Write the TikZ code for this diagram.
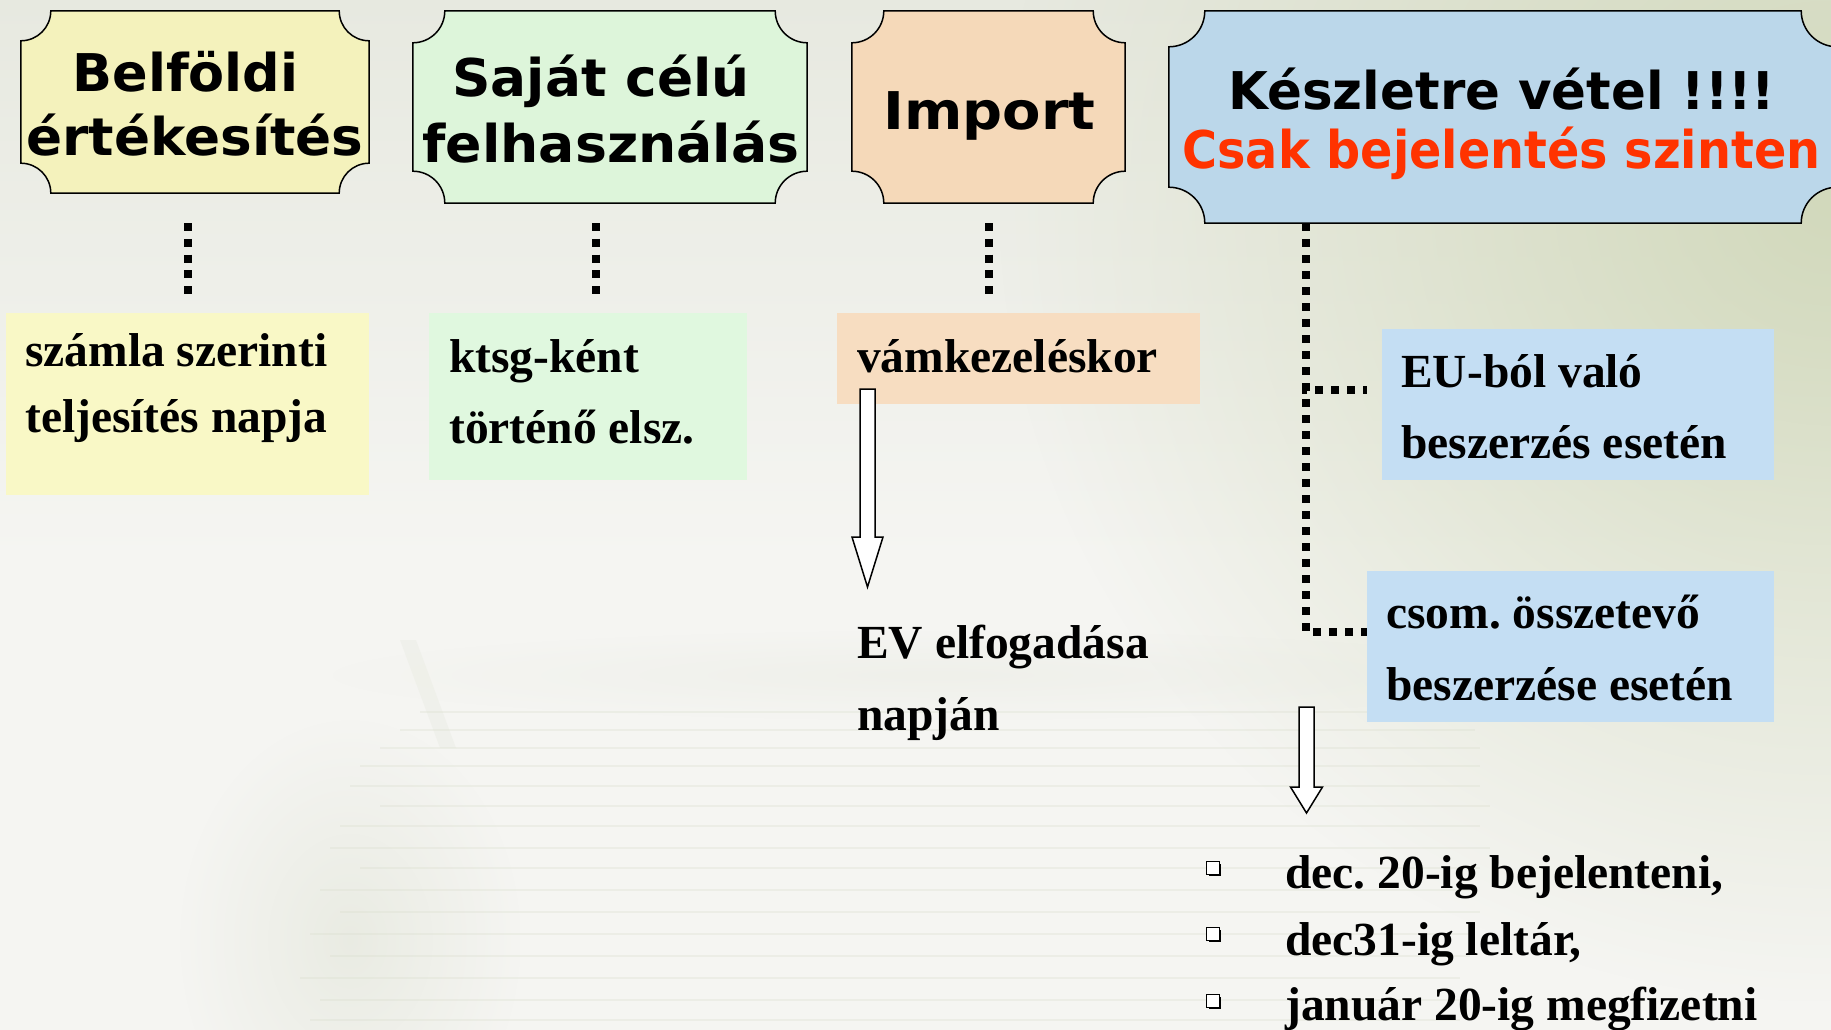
\documentclass[tikz,border=0pt]{standalone}
\usepackage{fontspec}
\newfontfamily\headfont{DejaVu Sans}
\newfontfamily\bodyfont{Liberation Serif}
\usetikzlibrary{fadings,shadows,calc}
\definecolor{bgbase}{HTML}{F5F5F2}
\definecolor{bgtop}{HTML}{E7E9E0}
\definecolor{bggreen}{HTML}{D2D9BC}
\definecolor{stackgray}{HTML}{DDE1D2}
\definecolor{stackline}{HTML}{D9DDCC}
\definecolor{plqyellow}{HTML}{F4F2BC}
\definecolor{plqgreen}{HTML}{DDF5DA}
\definecolor{plqpeach}{HTML}{F5D9B9}
\definecolor{plqblue}{HTML}{BBD7EA}
\definecolor{boxyellow}{HTML}{F9F8C6}
\definecolor{boxgreen}{HTML}{E0F8DF}
\definecolor{boxpeach}{HTML}{F7DDC1}
\definecolor{boxblue}{HTML}{C4DEF3}
\definecolor{alertred}{HTML}{FF3300}
\tikzfading[name=radfade, inner color=transparent!0, outer color=transparent!100]
\tikzfading[name=softfade, inner color=transparent!20, outer color=transparent!100]
\newcommand\plaqueshape[4]{%
  \filldraw[fill=#4, draw=black, line width=1.5pt]
  ([xshift=#2pt]#1.north west) -- ([xshift=-#2pt]#1.north east)
  .. controls ([xshift=-#2pt, yshift=-#3pt]#1.north east) and ([xshift=-#3pt, yshift=-#2pt]#1.north east) .. ([yshift=-#2pt]#1.north east)
  -- ([yshift=#2pt]#1.south east)
  .. controls ([xshift=-#3pt, yshift=#2pt]#1.south east) and ([xshift=-#2pt, yshift=#3pt]#1.south east) .. ([xshift=-#2pt]#1.south east)
  -- ([xshift=#2pt]#1.south west)
  .. controls ([xshift=#2pt, yshift=#3pt]#1.south west) and ([xshift=#3pt, yshift=#2pt]#1.south west) .. ([yshift=#2pt]#1.south west)
  -- ([yshift=-#2pt]#1.north west)
  .. controls ([xshift=#3pt, yshift=-#2pt]#1.north west) and ([xshift=#2pt, yshift=-#3pt]#1.north west) .. cycle;}
\begin{document}
\begin{tikzpicture}[x=1pt,y=-1pt,
  plq/.style={inner sep=0pt, draw=none},
  tbox/.style={inner sep=0pt, draw=none, anchor=north west},
  head/.style={font=\headfont\bfseries\fontsize{52}{60}\selectfont, inner sep=0pt, anchor=base},
  body/.style={font=\bodyfont\bfseries\frenchspacing\fontsize{47.5}{56}\selectfont, inner sep=0pt, anchor=base west},
  dotline/.style={line width=8pt, dash pattern=on 8pt off 7.75pt},
  blockarrow/.style={draw=black, fill=white, line width=1.5pt, line join=miter},
  bulletsq/.style={draw=black, fill=white, line width=1.3pt, minimum size=12.5pt, inner sep=0pt,
     drop shadow={shadow xshift=2.2pt, shadow yshift=-2.2pt, fill=black, opacity=1}}]
\useasboundingbox (0,0) rectangle (1831,1030);
% ---------- background ----------
\fill[bgbase] (0,0) rectangle (1831,1030);
\shade[top color=bgtop, bottom color=bgbase] (0,0) rectangle (1831,560);
\fill[bggreen, path fading=radfade, fit fading=true] (1000,-600) rectangle (2660,1000);
% faint paper stack
\fill[stackgray, opacity=0.6, path fading=softfade, fit fading=true] (180,720) rectangle (520,1160);
\begin{scope}[opacity=0.3]
  \fill[stackgray, path fading=softfade, fit fading=true] (330,630) rectangle (1540,720);
  \fill[stackgray!80] (400,640) -- (416,640) -- (456,748) -- (440,748) -- cycle;
  \foreach \yy/\xl/\xr in {712/420/1470, 730/400/1475, 748/380/1480, 766/360/1480, 786/350/1480,
      806/380/1490, 826/340/1480, 848/330/1490, 868/360/1480, 890/320/1470, 912/340/1480,
      934/310/1470, 956/330/1470, 978/300/1460, 1000/320/1470, 1020/310/1460}
    \draw[stackline, line width=2.5pt] (\xl,\yy) -- (\xr,\yy);
\end{scope}
% ---------- plaques ----------
\node[plq, minimum width=348pt, minimum height=182pt] (p1) at (195,102) {};
\node[plq, minimum width=394pt, minimum height=192pt] (p2) at (610,107) {};
\node[plq, minimum width=273pt, minimum height=192pt] (p3) at (988.5,107) {};
\node[plq, minimum width=668pt, minimum height=212pt] (p4) at (1503,117) {};
\plaqueshape{p1}{30}{16.6}{plqyellow}
\plaqueshape{p2}{32}{17.7}{plqgreen}
\plaqueshape{p3}{32}{17.7}{plqpeach}
\plaqueshape{p4}{36}{19.9}{plqblue}
\node[head] (h1a) at (185.5,92) {\resizebox{226pt}{\height}{Belföldi}};
\node[head] (h1b) at (195,156) {\resizebox{337pt}{\height}{értékesítés}};
\node[head] (h2a) at (601,97) {\resizebox{297pt}{\height}{Saját célú}};
\node[head] (h2b) at (611,162) {\resizebox{377pt}{\height}{felhasználás}};
\node[head] (h3) at (989.5,129) {\resizebox{212pt}{\height}{Import}};
\node[head] (h4a) at (1502,110) {\resizebox{547pt}{\height}{Készletre vétel !!!!}};
\node[head, text=alertred] (h4b) at (1501.5,168) {\resizebox{638pt}{\height}{Csak bejelentés szinten}};
% ---------- text boxes ----------
\node[tbox, fill=boxyellow, minimum width=363pt, minimum height=182pt] (t1) at (6,313) {};
\node[tbox, fill=boxgreen, minimum width=318pt, minimum height=167pt] (t2) at (429,313) {};
\node[tbox, fill=boxpeach, minimum width=363pt, minimum height=91pt] (t3) at (837,313) {};
\node[tbox, fill=boxblue, minimum width=392pt, minimum height=151pt] (eu) at (1382,329) {};
\node[tbox, fill=boxblue, minimum width=407pt, minimum height=151pt] (cs) at (1367,571) {};
\node[body] (t1a) at (25,366) {számla szerinti};
\node[body] (t1b) at (25,432) {teljesítés napja};
\node[body] (t2a) at (449,372) {ktsg-ként};
\node[body] (t2b) at (449,443) {történő elsz.};
\node[body] (t3a) at (857,372) {vámkezeléskor};
\node[body] (eva) at (857,658) {EV elfogadása};
\node[body] (evb) at (857,730) {napján};
\node[body] (eua) at (1401,387) {EU-ból való};
\node[body] (eub) at (1401,458) {beszerzés esetén};
\node[body] (csa) at (1386,628) {csom. összetevő};
\node[body] (csb) at (1386,700) {beszerzése esetén};
% ---------- dotted connectors ----------
\coordinate (d1) at (188,0);
\coordinate (d2) at (596,0);
\coordinate (d3) at (989,0);
\coordinate (vx) at (1306,0);
\coordinate (b1) at (1367,390);
\coordinate (b2) at (1367,632);
\draw[dotline, shorten <=30pt, shorten >=19pt] (p1.south -| d1) -- (t1.north -| d1);
\draw[dotline, shorten <=20pt, shorten >=19pt] (p2.south -| d2) -- (t2.north -| d2);
\draw[dotline, shorten <=20pt, shorten >=19pt] (p3.south -| d3) -- (t3.north -| d3);
\draw[dotline, dash pattern=on 8pt off 8pt] (p4.south -| vx) |- (b2);
\draw[dotline, dash pattern=on 8pt off 8pt] (p4.south -| vx) |- (b1);
% ---------- block arrows ----------
\coordinate (a1s) at (867.5,389);
\coordinate (a1e) at (867.5,587);
\draw[blockarrow] ($(a1s)+(-7.5,0)$) -- ($(a1s)+(7.5,0)$) -- ($(a1e)+(7.5,-50)$) -- ($(a1e)+(15.5,-50)$)
  -- (a1e) -- ($(a1e)+(-15.5,-50)$) -- ($(a1e)+(-7.5,-50)$) -- cycle;
\coordinate (a2s) at (1306.5,707);
\coordinate (a2e) at (1306.5,813);
\draw[blockarrow] ($(a2s)+(-7.5,0)$) -- ($(a2s)+(7.5,0)$) -- ($(a2e)+(7.5,-26)$) -- ($(a2e)+(16,-26)$)
  -- (a2e) -- ($(a2e)+(-16,-26)$) -- ($(a2e)+(-7.5,-26)$) -- cycle;
% ---------- bullet list ----------
\node[bulletsq] (bl1) at (1213,868) {};
\node[bulletsq] (bl2) at (1213,934) {};
\node[bulletsq] (bl3) at (1213,1001) {};
\node[body] (li1) at (1285,888) {dec. 20-ig bejelenteni,};
\node[body] (li2) at (1285,955) {dec31-ig leltár,};
\node[body] (li3) at (1285,1020) {január 20-ig megfizetni};
\end{tikzpicture}
\end{document}
